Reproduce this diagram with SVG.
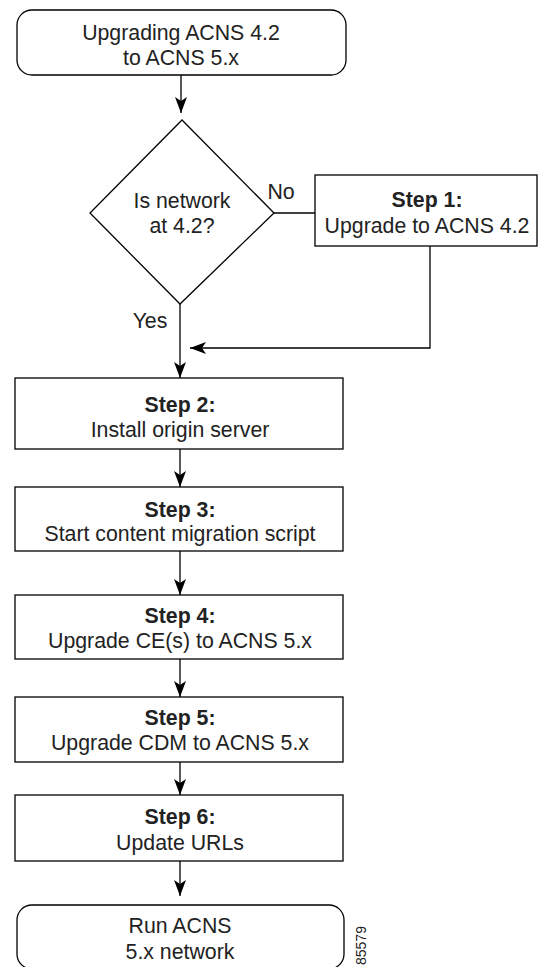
<svg xmlns="http://www.w3.org/2000/svg" width="538" height="967" viewBox="0 0 538 967">
<style>
.box{fill:#fff;stroke:#000;stroke-width:1.3}
.t{font-family:"Liberation Sans",Arial,sans-serif;font-size:21.3px;fill:#222;text-anchor:middle}
.b{font-weight:bold}
.c{fill:none;stroke:#000;stroke-width:1.3}
</style>
<defs>
<marker id="ah" markerUnits="userSpaceOnUse" markerWidth="18" markerHeight="14" viewBox="-17 -7 18 14" refX="0" refY="0" orient="auto">
<path d="M0,0 L-16,-6 L-12,0 L-16,6 Z" fill="#000"/>
</marker>
</defs>
<rect width="538" height="967" fill="#fff"/>
<g id="connectors">
<path class="c" d="M181,75 V113" marker-end="url(#ah)"/>
<path class="c" d="M274,213 H315"/>
<path class="c" d="M180,304 V378" marker-end="url(#ah)"/>
<path class="c" d="M430,246 V348 H190" marker-end="url(#ah)"/>
<path class="c" d="M180,449 V487" marker-end="url(#ah)"/>
<path class="c" d="M180,551 V595" marker-end="url(#ah)"/>
<path class="c" d="M180,659 V697" marker-end="url(#ah)"/>
<path class="c" d="M180,762 V795" marker-end="url(#ah)"/>
<path class="c" d="M180,861 V896" marker-end="url(#ah)"/>
<text class="t" x="281" y="199">No</text>
<text class="t" x="150" y="328">Yes</text>
</g>
<g id="start">
<rect class="box" x="17" y="10" width="329" height="65" rx="15"/>
<text class="t" x="181" y="40">Upgrading ACNS 4.2</text>
<text class="t" x="181" y="65">to ACNS 5.x</text>
</g>
<g id="decision">
<polygon class="box" points="182,120 274,213 180,304 90,213"/>
<text class="t" x="182" y="208">Is network</text>
<text class="t" x="182" y="233">at 4.2?</text>
</g>
<g id="step1">
<rect class="box" x="315" y="175" width="222" height="71"/>
<text class="t b" x="427" y="207">Step 1:</text>
<text class="t" x="427" y="233">Upgrade to ACNS 4.2</text>
</g>
<g id="step2">
<rect class="box" x="15" y="378" width="328" height="71"/>
<text class="t b" x="180" y="412">Step 2:</text>
<text class="t" x="180" y="437">Install origin server</text>
</g>
<g id="step3">
<rect class="box" x="15" y="487" width="328" height="64"/>
<text class="t b" x="180" y="517">Step 3:</text>
<text class="t" x="180" y="541">Start content migration script</text>
</g>
<g id="step4">
<rect class="box" x="15" y="595" width="328" height="64"/>
<text class="t b" x="180" y="623">Step 4:</text>
<text class="t" x="180" y="648">Upgrade CE(s) to ACNS 5.x</text>
</g>
<g id="step5">
<rect class="box" x="15" y="697" width="328" height="65"/>
<text class="t b" x="180" y="725">Step 5:</text>
<text class="t" x="180" y="750">Upgrade CDM to ACNS 5.x</text>
</g>
<g id="step6">
<rect class="box" x="15" y="795" width="328" height="66"/>
<text class="t b" x="180" y="824">Step 6:</text>
<text class="t" x="180" y="850">Update URLs</text>
</g>
<g id="end">
<rect class="box" x="17" y="905" width="327" height="64" rx="15"/>
<text class="t" x="180" y="933">Run ACNS</text>
<text class="t" x="180" y="959">5.x network</text>
</g>
<text x="366" y="965" transform="rotate(-90 366 965)" font-family="Liberation Sans,Arial,sans-serif" font-size="14" fill="#222">85579</text>
</svg>
